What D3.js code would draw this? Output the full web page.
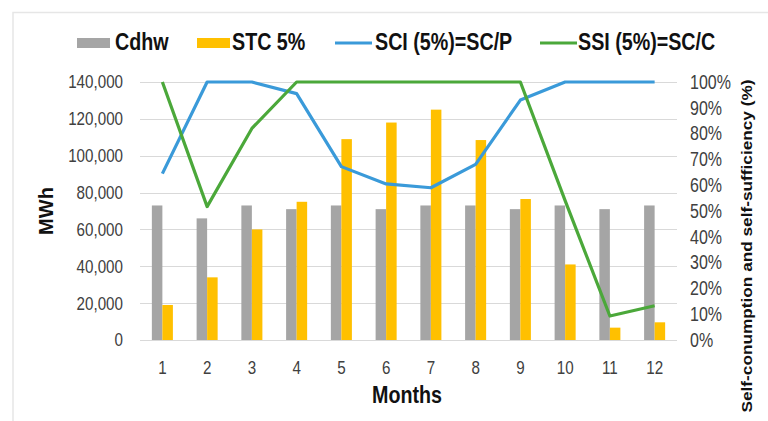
<!DOCTYPE html>
<html>
<head>
<meta charset="utf-8">
<script src="https://cdn.jsdelivr.net/npm/d3@7"></script>
<style>
  body { margin: 0; background: #fff; }
  svg { display: block; }
  text { font-family: "Liberation Sans", Arial, sans-serif; }
</style>
</head>
<body>
<svg id="chart" width="768" height="421"></svg>
<script>
// monthly values
const months = [1, 2, 3, 4, 5, 6, 7, 8, 9, 10, 11, 12];
const cdhw = [73000, 66000, 73000, 71000, 73000, 71000, 73000, 73000, 71000, 73000, 71000, 73000];
const stc = [19000, 34000, 60000, 75000, 109000, 118000, 125000, 108500, 76500, 41000, 6700, 9600];
const sci = [0.645, 1, 1, 0.955, 0.672, 0.605, 0.59, 0.681, 0.93, 1, 1, 1];
const ssi = [1, 0.517, 0.82, 1, 1, 1, 1, 1, 1, 0.54, 0.093, 0.133];
const leftTicks = [0, 20000, 40000, 60000, 80000, 100000, 120000, 140000];
const rightTicks = [0, 0.1, 0.2, 0.3, 0.4, 0.5, 0.6, 0.7, 0.8, 0.9, 1];

const colors = { cdhw: '#a5a5a5', stc: '#ffc000', sci: '#3a9ad9', ssi: '#4ba83a' };

const margin = { top: 82, right: 91, bottom: 81, left: 140 };
const width = 768;
const height = 421;

const svg = d3.select('#chart');

// the source uses a narrow font; squeeze the text horizontally
function condense(sel, k = 0.82) {
  sel.each(function () {
    const len = this.getComputedTextLength();
    d3.select(this)
      .attr('textLength', len * k)
      .attr('lengthAdjust', 'spacingAndGlyphs');
  });
}

// light frame on top / left like the source image
svg.append('path')
  .attr('d', 'M13,421 V12.5 H768')
  .attr('fill', 'none')
  .attr('stroke', '#e6e6e6')
  .attr('stroke-width', 1.5);

const x0 = d3.scaleBand()
  .domain(months)
  .range([margin.left, width - margin.right])
  .paddingInner(0.53)
  .paddingOuter(0.265);

const x1 = d3.scaleBand()
  .domain(['cdhw', 'stc'])
  .range([0, x0.bandwidth()]);

const y = d3.scaleLinear()
  .domain([0, 140000])
  .range([height - margin.bottom, margin.top]);

const y2 = d3.scaleLinear()
  .domain([0, 1])
  .range([height - margin.bottom, margin.top]);

// gridlines
svg.append('g')
  .selectAll('line')
  .data(leftTicks)
  .join('line')
  .attr('x1', margin.left)
  .attr('x2', width - margin.right)
  .attr('y1', (d) => Math.round(y(d)) + 0.5)
  .attr('y2', (d) => Math.round(y(d)) + 0.5)
  .attr('stroke', '#d9d9d9')
  .attr('stroke-width', 1.2);

// left axis
const leftAxis = svg.append('g')
  .attr('transform', `translate(${margin.left},0)`)
  .call(d3.axisLeft(y).tickValues(leftTicks).tickFormat(d3.format(',')).tickSize(0).tickPadding(17));
leftAxis.select('.domain').remove();
leftAxis.selectAll('text')
  .attr('font-family', null)
  .style('font-size', '18.5px')
  .attr('fill', '#404040')
  .call(condense);

// right axis
const rightAxis = svg.append('g')
  .attr('transform', `translate(${width - margin.right},0)`)
  .call(d3.axisRight(y2).tickValues(rightTicks).tickFormat(d3.format('.0%')).tickSize(0).tickPadding(13));
rightAxis.select('.domain').remove();
rightAxis.selectAll('text')
  .style('font-size', '19.5px')
  .attr('fill', '#404040')
  .call(condense);

// bottom axis
const bottomAxis = svg.append('g')
  .attr('transform', `translate(0,${height - margin.bottom})`)
  .call(d3.axisBottom(x0).tickSize(0).tickPadding(21));
bottomAxis.select('.domain').remove();
bottomAxis.selectAll('text')
  .style('font-size', '18.5px')
  .attr('fill', '#404040')
  .call(condense);

svg.selectAll('g').attr('font-family', null);

// bars
const groups = svg.append('g')
  .selectAll('g')
  .data(months)
  .join('g')
  .attr('transform', (d) => `translate(${x0(d)},0)`);

groups.append('rect')
  .attr('x', x1('cdhw'))
  .attr('y', (d, i) => y(cdhw[i]))
  .attr('width', x1.bandwidth())
  .attr('height', (d, i) => y(0) - y(cdhw[i]))
  .attr('fill', colors.cdhw);

groups.append('rect')
  .attr('x', x1('stc'))
  .attr('y', (d, i) => y(stc[i]))
  .attr('width', x1.bandwidth())
  .attr('height', (d, i) => y(0) - y(stc[i]))
  .attr('fill', colors.stc);

// lines on the secondary axis
const line = d3.line()
  .x((d, i) => x0(months[i]) + x0.bandwidth() / 2)
  .y((d) => y2(d));

svg.append('path')
  .datum(sci)
  .attr('d', line)
  .attr('fill', 'none')
  .attr('stroke', colors.sci)
  .attr('stroke-width', 3.2)
  .attr('stroke-linejoin', 'round');

svg.append('path')
  .datum(ssi)
  .attr('d', line)
  .attr('fill', 'none')
  .attr('stroke', colors.ssi)
  .attr('stroke-width', 3.2)
  .attr('stroke-linejoin', 'round');

// axis titles
svg.append('text')
  .attr('x', 407)
  .attr('y', 403)
  .attr('text-anchor', 'middle')
  .style('font-size', '24px')
  .style('font-weight', 'bold')
  .attr('fill', '#111')
  .text('Months')
  .call(condense);

svg.append('text')
  .attr('transform', 'translate(53,211) rotate(-90)')
  .attr('text-anchor', 'middle')
  .style('font-size', '20px')
  .style('font-weight', 'bold')
  .attr('fill', '#111')
  .text('MWh');

svg.append('text')
  .attr('transform', 'translate(752,246) rotate(-90)')
  .attr('text-anchor', 'middle')
  .style('font-size', '15px')
  .style('font-weight', 'bold')
  .attr('fill', '#111')
  .attr('textLength', 333)
  .attr('lengthAdjust', 'spacingAndGlyphs')
  .text('Self-conumption and self-sufficiency (%)');

// legend
const legendItems = [
  { label: 'Cdhw', color: colors.cdhw, type: 'rect', x: 77, tx: 115 },
  { label: 'STC 5%', color: colors.stc, type: 'rect', x: 197, tx: 232 },
  { label: 'SCI (5%)=SC/P', color: colors.sci, type: 'line', x: 335, tx: 375 },
  { label: 'SSI (5%)=SC/C', color: colors.ssi, type: 'line', x: 540, tx: 578 },
];

const legend = svg.append('g');
legendItems.forEach((item) => {
  if (item.type === 'rect') {
    legend.append('rect')
      .attr('x', item.x)
      .attr('y', 38)
      .attr('width', 33)
      .attr('height', 10)
      .attr('fill', item.color);
  } else {
    legend.append('line')
      .attr('x1', item.x)
      .attr('x2', item.x + 37)
      .attr('y1', 43)
      .attr('y2', 43)
      .attr('stroke', item.color)
      .attr('stroke-width', 3.2);
  }
  legend.append('text')
    .attr('x', item.tx)
    .attr('y', 50)
    .style('font-size', '24px')
    .style('font-weight', 'bold')
    .attr('fill', '#111')
    .text(item.label)
    .call(condense);
});
</script>
</body>
</html>
